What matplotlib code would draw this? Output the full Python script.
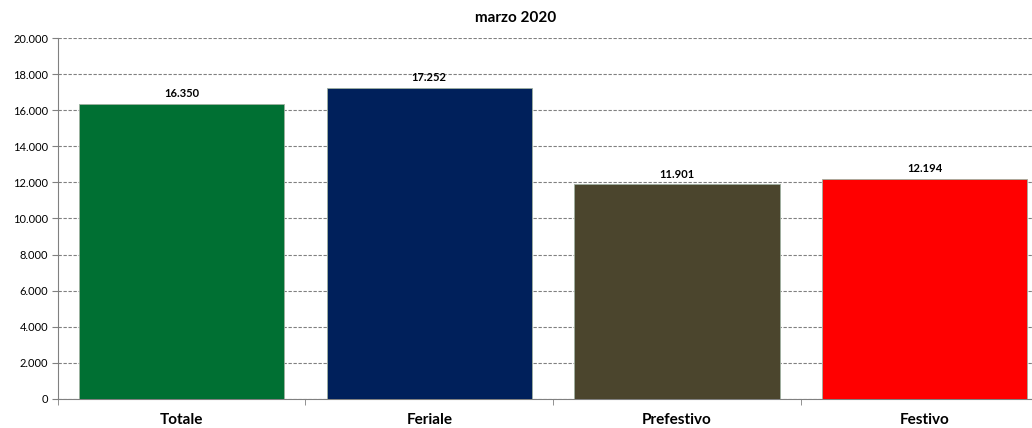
import matplotlib.pyplot as plt
from matplotlib.ticker import FuncFormatter, FixedLocator

categorie = ['Totale', 'Feriale', 'Prefestivo', 'Festivo']
valori = [16350, 17252, 11901, 12194]
colori = ['#007033', '#00205B', '#4B452D', '#FF0000']
titolo = 'marzo 2020'

plt.rcParams['font.family'] = ['Lato', 'DejaVu Sans']


def formato_it(v, pos=None):
    return f'{int(v):,}'.replace(',', '.')


fig = plt.figure(figsize=(10.32, 4.28), dpi=100)
# l'area del grafico esce un po' a destra, come nell'originale tagliato
ax = fig.add_axes([0.056, 0.068, 0.960, 0.843])

x = range(len(categorie))
barre = ax.bar(x, valori, width=0.83, color=colori, edgecolor='#9fb0a0', linewidth=0.6, zorder=3)

for b, v in zip(barre, valori):
    ax.text(b.get_x() + b.get_width() / 2, v + 250, formato_it(v),
            ha='center', va='bottom', fontsize=8, fontweight='bold')

ax.set_xlim(-0.5, len(categorie) - 0.5)
ax.set_ylim(0, 20000)
ax.set_yticks(range(0, 20001, 2000))
ax.yaxis.set_major_formatter(FuncFormatter(formato_it))
ax.grid(axis='y', linestyle=(0, (3, 1.5)), color='#808080', linewidth=0.8, zorder=0)

ax.set_xticks(list(x))
ax.set_xticklabels(categorie, fontsize=11, fontweight='bold')
ax.xaxis.set_minor_locator(FixedLocator([i - 0.5 for i in range(len(categorie) + 1)]))
ax.tick_params(axis='x', which='major', length=0, pad=10)
ax.tick_params(axis='x', which='minor', length=4, color='#808080')
ax.tick_params(axis='y', length=4, color='#808080', labelsize=8, pad=3)

for s in ['top', 'right']:
    ax.spines[s].set_visible(False)
for s in ['left', 'bottom']:
    ax.spines[s].set_color('#808080')

fig.text(0.5, 0.958, titolo, ha='center', va='center', fontsize=11, fontweight='bold')

fig.savefig('out.png', dpi=100)
